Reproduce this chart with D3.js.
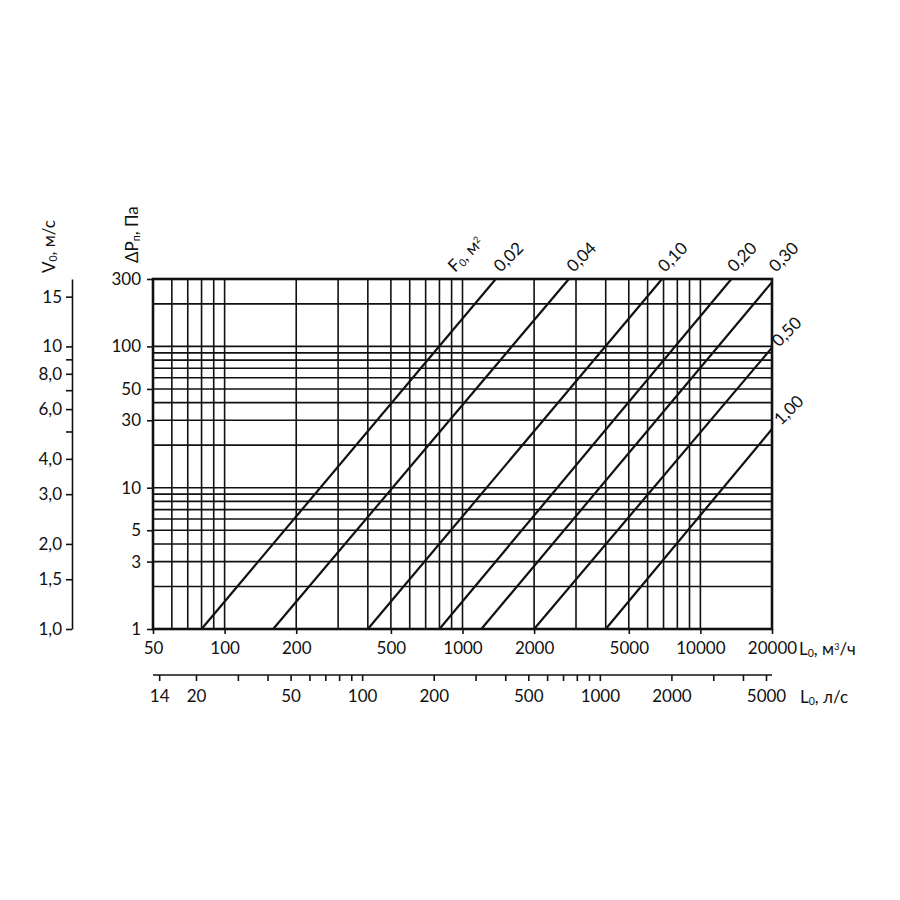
<!DOCTYPE html>
<html>
<head>
<meta charset="utf-8">
<script src="https://cdn.jsdelivr.net/npm/d3@7"></script>
<style>
  html, body { margin: 0; padding: 0; background: #fff; }
  svg { display: block; }
  text { font-family: Lato, "Open Sans", sans-serif; fill: #111; }
</style>
</head>
<body>
<svg id="chart" width="900" height="900"></svg>
<script>
// ---------- data ----------
const flowGridM3h = [60, 70, 80, 90, 100, 200, 300, 400, 500, 600, 700, 800, 900, 1000,
                     2000, 3000, 4000, 5000, 6000, 7000, 8000, 9000, 10000];
const pressureGrid = [2, 3, 4, 5, 6, 7, 8, 9, 10, 20, 30, 40, 50, 60, 70, 80, 90, 100, 200];
const flowTicksM3h = [50, 100, 200, 500, 1000, 2000, 5000, 10000, 20000];
const pressureTicks = [1, 3, 5, 10, 30, 50, 100, 300];
const flowTicksLs = [14, 20, 30, 40, 50, 60, 70, 80, 90, 100, 200, 300, 400, 500, 600, 700, 800, 900,
                     1000, 2000, 3000, 4000, 5000];
const flowLabelsLs = [14, 20, 50, 100, 200, 500, 1000, 2000, 5000];
const velocityTicks = [1, 1.5, 2, 3, 4, 5, 6, 7, 8, 9, 10, 15];
const velocityLabels = {1: "1,0", 1.5: "1,5", 2: "2,0", 3: "3,0", 4: "4,0", 6: "6,0", 8: "8,0", 10: "10", 15: "15"};
// area lines F0 (m²): start at ΔP = 1, end point as read
const areaLabels = ["0,02", "0,04", "0,10", "0,20", "0,30", "0,50", "1,00"];
const lineStartL = [80, 160, 400, 800, 1200, 2000, 4000];
const lineStartP = [1, 1, 1, 1, 1, 1, 1];
const lineEndL = [1380, 2800, 6900, 13500, 20000, 20000, 20000];
const lineEndP = [300, 300, 300, 300, 285, 98, 26];

// ---------- scales ----------
const svg = d3.select("#chart");
const x = d3.scaleLog().domain([50, 20000]).range([153, 772]);
const y = d3.scaleLog().domain([1, 300]).range([629, 279]);
const v = d3.scaleLog().domain([1, Math.sqrt(300)]).range([629, 279]);
const ls = d3.scaleLog().domain([20, 5000]).range([196, 766]);

const FS = 17;

// ---------- grid ----------
const grid = svg.append("g").attr("stroke", "#111").attr("stroke-width", 1.6);
grid.selectAll("line.vx").data(flowGridM3h).join("line")
  .attr("x1", d => x(d)).attr("x2", d => x(d))
  .attr("y1", y(1)).attr("y2", y(300));
grid.selectAll("line.hy").data(pressureGrid).join("line")
  .attr("class", "hy")
  .attr("x1", x(50)).attr("x2", x(20000))
  .attr("y1", d => y(d)).attr("y2", d => y(d));

// ---------- area lines ----------
const lines = svg.append("g").attr("stroke", "#111").attr("stroke-width", 2.2).attr("fill", "none");
areaLabels.forEach((lab, i) => {
  lines.append("line")
    .attr("x1", x(lineStartL[i])).attr("y1", y(lineStartP[i]))
    .attr("x2", x(lineEndL[i])).attr("y2", y(lineEndP[i]));
});

// ---------- border ----------
svg.append("rect")
  .attr("x", x(50)).attr("y", y(300))
  .attr("width", x(20000) - x(50)).attr("height", y(1) - y(300))
  .attr("fill", "none").attr("stroke", "#111").attr("stroke-width", 2.6);

// ---------- axes ----------
function styleAxis(g) {
  g.selectAll("text").style("font-size", FS + "px").style("font-family", "Lato, 'Open Sans', sans-serif").attr("fill", "#111");
  g.selectAll("line").attr("stroke", "#111").attr("stroke-width", 1.6);
  g.select(".domain").attr("stroke", "#111").attr("stroke-width", 1.6);
}

// ΔP axis
svg.append("g").attr("transform", `translate(${x(50)},0)`)
  .call(d3.axisLeft(y).tickValues(pressureTicks).tickFormat(d => String(d)).tickSize(6).tickPadding(6).tickSizeOuter(0))
  .call(styleAxis)
  .call(g => g.select(".domain").remove());

// m³/h axis
svg.append("g").attr("transform", `translate(0,${y(1)})`)
  .call(d3.axisBottom(x).tickValues(flowTicksM3h).tickFormat(d => String(d)).tickSize(5).tickPadding(8).tickSizeOuter(0))
  .call(styleAxis)
  .call(g => g.select(".domain").remove());

// l/s axis
const lsY = 675;
svg.append("line").attr("x1", x(50)).attr("x2", x(20000)).attr("y1", lsY).attr("y2", lsY)
  .attr("stroke", "#111").attr("stroke-width", 1.6);
svg.append("g").attr("transform", `translate(0,${lsY})`)
  .call(d3.axisBottom(ls).tickValues(flowTicksLs)
    .tickFormat(d => flowLabelsLs.includes(d) ? String(d) : "").tickSize(6).tickPadding(9).tickSizeOuter(0))
  .call(styleAxis)
  .call(g => g.select(".domain").remove());

// V axis
svg.append("g").attr("transform", "translate(72,0)")
  .call(d3.axisLeft(v).tickValues(velocityTicks).tickFormat(d => velocityLabels[d] || "").tickSize(6).tickPadding(4).tickSizeOuter(0))
  .call(styleAxis);

// ---------- titles ----------
function richText(sel, parts) {
  parts.forEach(p => {
    const t = sel.append("tspan").text(p.t);
    if (p.sub) t.attr("font-size", FS * 0.62).attr("baseline-shift", "-15%");
    if (p.sup) t.attr("font-size", FS * 0.55).attr("baseline-shift", "60%");
  });
  return sel;
}

// L0, m³/h
richText(svg.append("text").attr("x", 799).attr("y", 655).attr("font-size", FS),
  [{t: "L"}, {t: "0", sub: true}, {t: ", м"}, {t: "3", sup: true}, {t: "/ч"}]);
// L0, l/s
richText(svg.append("text").attr("x", 800).attr("y", 703).attr("font-size", FS),
  [{t: "L"}, {t: "0", sub: true}, {t: ", л/с"}]);
// V0, m/s
richText(svg.append("text").attr("transform", "translate(55,273) rotate(-90)").attr("font-size", FS),
  [{t: "V"}, {t: "0", sub: true}, {t: ", м/с"}]);
// ΔPп, Па
richText(svg.append("text").attr("transform", "translate(138,263) rotate(-90)").attr("font-size", FS),
  [{t: "ΔP"}, {t: "п", sub: true}, {t: ", Па"}]);
// F0, m²
richText(svg.append("text").attr("transform", "translate(455,273) rotate(-45)").attr("font-size", FS),
  [{t: "F"}, {t: "0", sub: true}, {t: ", м"}, {t: "2", sup: true}]);

// area labels
const labelPos = [
  [x(lineEndL[0]) + 5, 273], [x(lineEndL[1]) + 5, 273], [x(lineEndL[2]) + 3, 273],
  [x(lineEndL[3]) + 3, 273], [x(20000) + 4, 273],
  [x(20000) + 7, y(lineEndP[5])], [x(20000) + 9, y(lineEndP[6]) - 3]
];
areaLabels.forEach((lab, i) => {
  svg.append("text")
    .attr("transform", `translate(${labelPos[i][0]},${labelPos[i][1]}) rotate(-45)`)
    .attr("font-size", FS)
    .text(lab);
});
</script>
</body>
</html>
